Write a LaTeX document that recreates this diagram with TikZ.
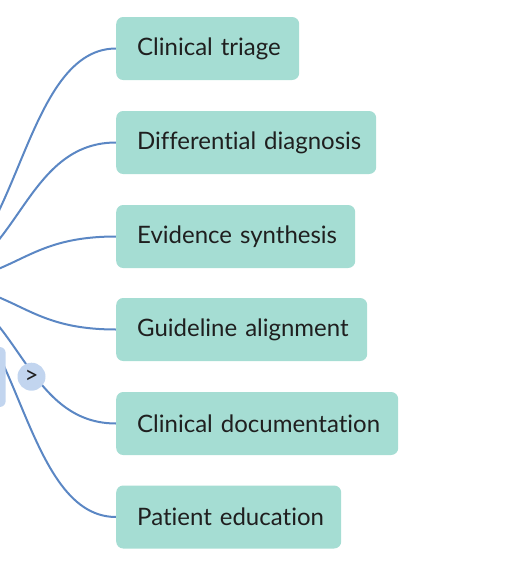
\documentclass[tikz,border=0pt]{standalone}
\usepackage{fontspec}
\setmainfont{Lato}[Ligatures=NoCommon]
\usetikzlibrary{backgrounds}
\definecolor{boxc}{HTML}{A5DDD3}
\definecolor{linec}{HTML}{5B87C4}
\definecolor{rootc}{HTML}{C2D5EF}
\definecolor{txtc}{HTML}{1F1F1F}
\tikzset{
  leafbox/.style={draw=none, fill=boxc, rounded corners=7pt, minimum height=63pt,
    inner xsep=21pt, inner ysep=0pt, anchor=west, align=left, text=txtc,
    font=\fontsize{24}{28}\selectfont},
  link/.style={draw=linec, line width=2pt},
  toggle/.style={circle, fill=rootc, minimum size=28pt, inner sep=0pt, text=txtc,
    font=\fontsize{24}{26}\selectfont},
}
\begin{document}
\begin{tikzpicture}[x=1pt,y=-1pt]
\useasboundingbox (0,0) rectangle (514,573);
\coordinate (P) at (-79,283);
\node[leafbox, text width=141pt] (c1) at (116,48.5) {\mbox{Clinical triage}};
\node[leafbox, text width=218pt] (c2) at (116,142.5) {\mbox{Differential diagnosis}};
\node[leafbox, text width=197pt] (c3) at (116,236.5) {\mbox{Evidence synthesis}};
\node[leafbox, text width=209pt] (c4) at (116,329.5) {\mbox{Guideline alignment}};
\node[leafbox, text width=240pt] (c5) at (116,423.5) {\mbox{Clinical documentation}};
\node[leafbox, text width=183pt] (c6) at (116,517) {\mbox{Patient education}};
\fill[rootc, rounded corners=6pt] (-60,347) rectangle (5.7,407);
\node[toggle] (t) at (31.5,376.7) {>};
\begin{scope}[on background layer]
\foreach \c in {c1,c2,c3,c4,c5,c6}
  \draw[link] (P) .. controls +(97.5,0) and +(-97.5,0) .. (\c.west);
\end{scope}
\end{tikzpicture}
\end{document}
